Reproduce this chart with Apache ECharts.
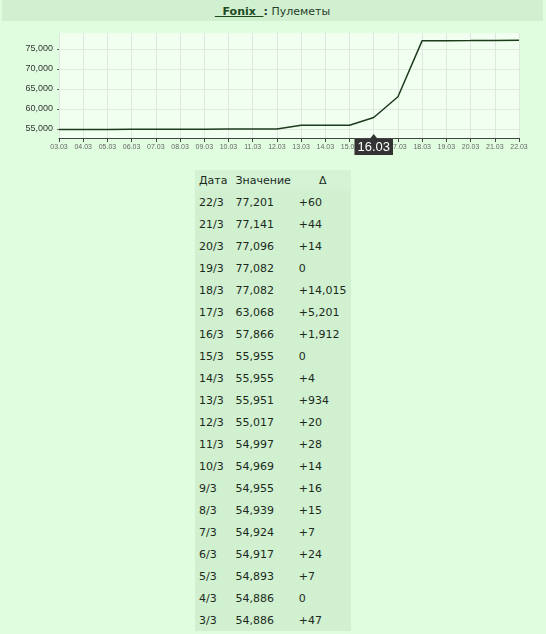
<!DOCTYPE html>
<html>
<head>
<meta charset="utf-8">
<script src="https://cdn.jsdelivr.net/npm/echarts@6/dist/echarts.min.js"></script>
<style>
  html, body { margin: 0; padding: 0; }
  body { width: 546px; height: 634px; background: #e0fde0; position: relative; overflow: hidden;
         font-family: "DejaVu Sans", Tahoma, sans-serif; font-size: 11px; color: #1c2a1c; }
  #head { position: absolute; left: 2px; top: 0; width: 541px; height: 21px; background: #d0f0d0;
          text-align: center; line-height: 23px; font-size: 11px; color: #2a3a2a; }
  #head a { color: #1f4a1f; font-weight: bold; text-decoration: underline; white-space: pre; }
  #chart { position: absolute; left: 0; top: 22px; width: 546px; height: 140px; }
  #tbl { position: absolute; left: 195px; top: 170px; border-collapse: collapse; background: #d0f0d0; }
  #tbl th { font-weight: normal; height: 21px; padding: 0 4px; text-align: center; background: #d4f3d4; }
  #tbl td { height: 22px; padding: 0 4px; text-align: left; }
</style>
</head>
<body>
<div id="head"><a>  Fonix  </a><b>:</b> Пулеметы</div>
<div id="chart"></div>
<table id="tbl">
  <thead><tr><th style="width:26px">Дата</th><th style="width:54px">Значение</th><th style="width:45px">Δ</th></tr></thead>
  <tbody id="rows"></tbody>
</table>
<script>
const dates = ["03.03", "04.03", "05.03", "06.03", "07.03", "08.03", "09.03", "10.03", "11.03", "12.03",
  "13.03", "14.03", "15.03", "16.03", "17.03", "18.03", "19.03", "20.03", "21.03", "22.03"];
const values = [54886, 54886, 54893, 54917, 54924, 54939, 54955, 54969, 54997, 55017,
  55951, 55955, 55955, 57866, 63068, 77082, 77082, 77096, 77141, 77201];
const deltas = [47, 0, 7, 24, 7, 15, 16, 14, 28, 20,
  934, 4, 0, 1912, 5201, 14015, 0, 14, 44, 60];
const yTicks = [55000, 60000, 65000, 70000, 75000];
const markedDate = "16.03";

const fmt = (v) => v.toLocaleString("en-US");

// table, newest first
const tbody = document.getElementById("rows");
for (let i = dates.length - 1; i >= 0; i--) {
  const [d, m] = dates[i].split(".");
  const tr = document.createElement("tr");
  const delta = deltas[i] === 0 ? "0" : "+" + fmt(deltas[i]);
  tr.innerHTML = `<td>${parseInt(d)}/${parseInt(m)}</td><td>${fmt(values[i])}</td><td>${delta}</td>`;
  tbody.appendChild(tr);
}

const chart = echarts.init(document.getElementById("chart"));
chart.setOption({
  animation: false,
  grid: {
    left: 59, right: 27, top: 11, bottom: 24,
    show: true, backgroundColor: "#f0fff0", borderWidth: 0,
  },
  xAxis: {
    type: "category",
    data: dates,
    boundaryGap: false,
    axisLine: { lineStyle: { color: "#444", width: 1 } },
    axisTick: { show: true, length: 4, lineStyle: { color: "#444" } },
    axisLabel: { fontSize: 7, color: "#666", margin: 6, fontFamily: "Arial", interval: 0 },
    splitLine: { show: true, lineStyle: { color: "#dfe8df", width: 1 } },
    axisPointer: {
      show: true,
      value: markedDate,
      status: "show",
      triggerTooltip: false,
      lineStyle: { opacity: 0 },
      label: {
        show: true, backgroundColor: "#333", color: "#fff", fontSize: 13,
        fontFamily: "Arial", padding: [2, 3, 1, 3], margin: 1, borderRadius: 0,
      },
    },
  },
  yAxis: {
    type: "value",
    min: 52750,
    max: 79000,
    axisLine: { show: false },
    axisTick: { show: true, length: 2, customValues: yTicks, lineStyle: { color: "#666" } },
    axisLabel: {
      customValues: yTicks, fontSize: 9, color: "#333", margin: 6, fontFamily: "Arial",
      formatter: (v) => fmt(v),
    },
    splitLine: { show: true, lineStyle: { color: "#e2ebe2", width: 1 } },
  },
  series: [{
    type: "line",
    data: values,
    showSymbol: false,
    lineStyle: { color: "#1d3a1d", width: 1.5 },
  }],
});

// little arrow on top of the date marker
const p = chart.convertToPixel({ gridIndex: 0 }, [markedDate, 52750]);
chart.setOption({
  graphic: [{
    type: "polygon",
    shape: { points: [[p[0] - 4, p[1] + 1], [p[0], p[1] - 4], [p[0] + 4, p[1] + 1]] },
    style: { fill: "#333" },
    z: 100,
  }],
});
</script>
</body>
</html>
